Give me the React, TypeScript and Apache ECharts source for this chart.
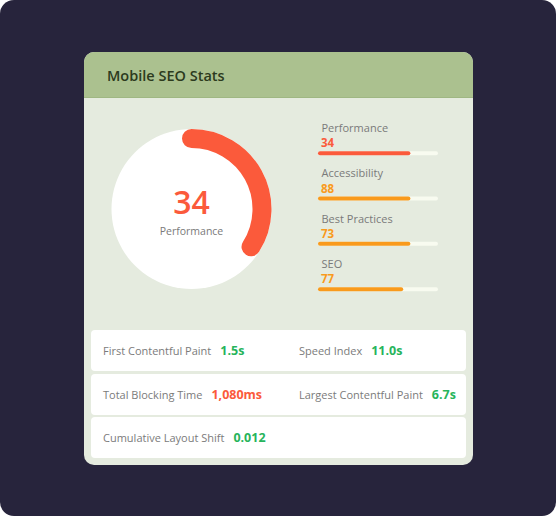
import React, { useEffect, useRef } from "react";
import * as echarts from "echarts";

const title = "Mobile SEO Stats";
const mainScoreName = "Performance";
const mainScore = 34;
const categoryNames = ["Performance", "Accessibility", "Best Practices", "SEO"];
const categoryScores = [34, 88, 73, 77];
const barFill = [77, 77, 77, 71];
const scoreTone = ["r", "o", "o", "o"];
const metricLabels = [
  ["First Contentful Paint", "Speed Index"],
  ["Total Blocking Time", "Largest Contentful Paint"],
  ["Cumulative Layout Shift"],
];
const metricValues = [["1.5s", "11.0s"], ["1,080ms", "6.7s"], ["0.012"]];
const metricTone = [["g", "g"], ["r", "g"], ["g"]];

const FONT = "'Open Sans', 'Noto Sans', sans-serif";
const RED = "#fb5a3b";
const ORANGE = "#f99a1c";
const GREEN = "#27b45b";

export default function App() {
  const ref = useRef<HTMLDivElement>(null);
  useEffect(() => {
    if (!ref.current) return;
    const chart = echarts.init(ref.current, null, { renderer: "svg" });
    const rowTops = [330, 374, 417];
    const colX = [103, 299];
    const graphics: any[] = [
      { type: "rect", shape: { x: 0, y: 0, width: 556, height: 516, r: 14 }, style: { fill: "#27243c" }, z: 0 },
      { type: "rect", shape: { x: 84, y: 52, width: 389, height: 413, r: 10 }, style: { fill: "#e5ebdf" }, z: 1 },
      { type: "rect", shape: { x: 84, y: 52, width: 389, height: 46, r: [10, 10, 0, 0] }, style: { fill: "#abc18f" }, z: 2 },
      { type: "rect", shape: { x: 84, y: 97, width: 389, height: 1 }, style: { fill: "#9fb783" }, z: 3 },
      {
        type: "text", x: 107, y: 75, z: 4,
        style: { text: title, fill: "#2c3a1d", font: `600 14.5px ${FONT}`, verticalAlign: "middle" },
      },
      { type: "circle", shape: { cx: 191.5, cy: 209, r: 80 }, style: { fill: "#ffffff" }, z: 3 },
    ];
    metricLabels.forEach((row, ri) => {
      graphics.push({
        type: "rect", z: 3,
        shape: { x: 91, y: rowTops[ri], width: 375, height: 41, r: 4 },
        style: { fill: "#ffffff" },
      });
      row.forEach((lab, ci) => {
        graphics.push({
          type: "text", z: 4, x: colX[ci], y: rowTops[ri] + 20.5,
          style: {
            text: `{l|${lab}}{${metricTone[ri][ci]}|${metricValues[ri][ci]}}`,
            verticalAlign: "middle",
            rich: {
              l: { fontSize: 11, fontFamily: FONT, fill: "#7b7b7b", padding: [0, 9, 0, 0] },
              g: { fontSize: 12.5, fontFamily: FONT, fontWeight: "bold", fill: GREEN },
              r: { fontSize: 12.5, fontFamily: FONT, fontWeight: "bold", fill: RED },
            },
          },
        });
      });
    });

    chart.setOption({
      animation: false,
      graphic: { elements: graphics },
      grid: { left: 318, width: 120, top: 130.5, height: 181.3, containLabel: false },
      xAxis: { type: "value", min: 0, max: 100, show: false },
      yAxis: { type: "category", data: categoryNames, inverse: true, show: false },
      series: [
        {
          type: "gauge",
          center: [191.5, 209],
          radius: 80,
          startAngle: 90,
          endAngle: -270,
          min: 0,
          max: 100,
          z: 5,
          progress: { show: true, width: 19, roundCap: true, itemStyle: { color: RED } },
          axisLine: { lineStyle: { width: 19, color: [[1, "rgba(0,0,0,0)"]] } },
          splitLine: { show: false },
          axisTick: { show: false },
          axisLabel: { show: false },
          pointer: { show: false },
          anchor: { show: false },
          title: { offsetCenter: [0, 21.5], fontSize: 10.5, lineHeight: 12, color: "#7a7a7a", fontFamily: FONT },
          detail: {
            offsetCenter: [0, -7.5], fontSize: 32, lineHeight: 30, fontWeight: 600, color: RED, fontFamily: FONT,
            valueAnimation: false, formatter: "{value}",
          },
          data: [{ value: mainScore, name: mainScoreName }],
        },
        {
          type: "bar",
          z: 5,
          barWidth: 4,
          showBackground: true,
          backgroundStyle: { color: "#f8fbf0", borderRadius: 2 },
          itemStyle: { borderRadius: 2 },
          data: barFill.map((v, i) => ({
            value: v,
            itemStyle: { color: scoreTone[i] === "r" ? RED : ORANGE },
          })),
          label: {
            show: true,
            position: [3, -15.2],
            formatter: (p: any) => `{${scoreTone[p.dataIndex]}|${categoryScores[p.dataIndex]}}`,
            rich: {
              r: { fontSize: 11.5, fontWeight: "bold", color: RED, fontFamily: FONT, lineHeight: 14 },
              o: { fontSize: 11.5, fontWeight: "bold", color: ORANGE, fontFamily: FONT, lineHeight: 14 },
            },
          },
        },
        {
          type: "bar",
          z: 5,
          barWidth: 4,
          barGap: "-100%",
          silent: true,
          itemStyle: { color: "rgba(0,0,0,0)" },
          data: barFill,
          label: {
            show: true,
            position: [3.5, -29.5],
            formatter: (p: any) => categoryNames[p.dataIndex],
            fontSize: 11,
            lineHeight: 12,
            color: "#7a7a7a",
            fontFamily: FONT,
          },
        },
      ],
    });
    return () => chart.dispose();
  }, []);
  return (
    <div
      ref={ref}
      style={{ position: "fixed", left: 0, top: 0, width: 556, height: 516, background: "#ffffff" }}
    />
  );
}
